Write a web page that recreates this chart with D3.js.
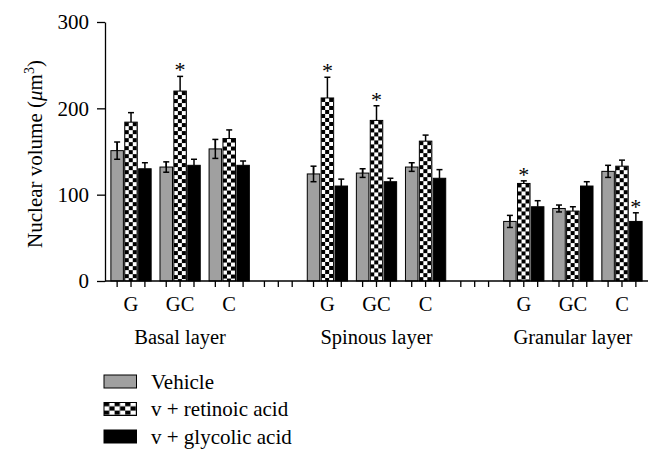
<!DOCTYPE html>
<html>
<head>
<meta charset="utf-8">
<script src="https://cdn.jsdelivr.net/npm/d3@7"></script>
<style>
  body { margin: 0; background: #fff; }
  svg { display: block; font-family: "Liberation Serif", "Times New Roman", serif; }
</style>
</head>
<body>
<div id="chart"></div>
<script>
const layers = ['Basal layer', 'Spinous layer', 'Granular layer'];
const groups = ['G', 'GC', 'C'];
const seriesNames = ['Vehicle', 'v + retinoic acid', 'v + glycolic acid'];

// values per layer x group (Basal G, GC, C, Spinous G, GC, C, Granular G, GC, C)
const vehicle = [151, 132, 153, 124, 125, 132, 69, 84, 127];
const retinoic = [184, 220, 165, 212, 186, 162, 113, 81, 133];
const glycolic = [130, 134, 134, 110, 115, 119, 86, 110, 69];
const vehicleErr = [10, 6, 11, 9, 5, 5, 7, 4, 7];
const retinoicErr = [11, 17, 10, 24, 17, 7, 3, 5, 7];
const glycolicErr = [7, 7, 5, 8, 4, 10, 7, 5, 10];
// [cell index, series index] marked with *
const significant = [[1, 1], [3, 1], [4, 1], [6, 1], [8, 2]];
const yTicks = [0, 100, 200, 300];

const width = 662, height = 461;
const svg = d3.select('#chart').append('svg')
  .attr('width', width).attr('height', height);

const defs = svg.append('defs');

// slot keys: 3 groups per layer, one empty slot between layers
const slots = [];
layers.forEach((l, i) => {
  groups.forEach((g, j) => slots.push(`${i}-${j}`));
  if (i < layers.length - 1) slots.push(`gap${i}`);
});

const x0 = d3.scaleBand().domain(slots).range([105, 648]).paddingInner(0.18).paddingOuter(0.12);
const x1 = d3.scaleBand().domain([0, 1, 2]).range([0, x0.bandwidth()]).paddingInner(0.1);
const y = d3.scaleLinear().domain([0, 300]).range([281, 22]);

const values = [vehicle, retinoic, glycolic];
const errs = [vehicleErr, retinoicErr, glycolicErr];
const fills = ['#a0a0a0', null, '#000'];

const cells = [];
layers.forEach((l, i) => groups.forEach((g, j) => cells.push({ key: `${i}-${j}`, layer: i, group: j })));

const bars = [];
cells.forEach((c, ci) => {
  values.forEach((vals, si) => {
    bars.push({ ci, si, key: c.key, v: vals[ci], e: errs[si][ci] });
  });
});

// one checker pattern per bar so squares line up with the bar edge
bars.filter(b => b.si === 1).forEach(b => {
  const bx = x0(b.key) + x1(b.si);
  const p = defs.append('pattern')
    .attr('id', `chk${b.ci}`)
    .attr('patternUnits', 'userSpaceOnUse')
    .attr('x', bx).attr('y', y(b.v))
    .attr('width', 8).attr('height', 8);
  p.append('rect').attr('width', 8).attr('height', 8).attr('fill', '#fff');
  p.append('rect').attr('width', 4).attr('height', 4).attr('fill', '#000');
  p.append('rect').attr('x', 4).attr('y', 4).attr('width', 4).attr('height', 4).attr('fill', '#000');
});

// error bars (drawn first so bars cover the lower whisker)
const eb = svg.append('g').attr('stroke', '#000').attr('stroke-width', 1.5).attr('fill', 'none');
bars.forEach(b => {
  const cx = x0(b.key) + x1(b.si) + x1.bandwidth() / 2;
  const lo = b.si === 0 ? b.v - b.e : b.v;
  eb.append('line').attr('x1', cx).attr('x2', cx).attr('y1', y(b.v + b.e)).attr('y2', y(lo));
  eb.append('line').attr('x1', cx - 3).attr('x2', cx + 3).attr('y1', y(b.v + b.e)).attr('y2', y(b.v + b.e));
});

svg.append('g').selectAll('rect')
  .data(bars)
  .join('rect')
  .attr('x', d => x0(d.key) + x1(d.si))
  .attr('y', d => y(d.v))
  .attr('width', x1.bandwidth())
  .attr('height', d => y(0) - y(d.v))
  .attr('fill', d => d.si === 1 ? `url(#chk${d.ci})` : fills[d.si])
  .attr('stroke', '#000')
  .attr('stroke-width', 1);

// lower whisker on the grey bars shows through
const eb2 = svg.append('g').attr('stroke', '#000').attr('stroke-width', 1.5);
bars.filter(b => b.si === 0).forEach(b => {
  const cx = x0(b.key) + x1(b.si) + x1.bandwidth() / 2;
  eb2.append('line').attr('x1', cx).attr('x2', cx).attr('y1', y(b.v)).attr('y2', y(b.v - b.e));
  eb2.append('line').attr('x1', cx - 3).attr('x2', cx + 3).attr('y1', y(b.v - b.e)).attr('y2', y(b.v - b.e));
  eb2.append('line').attr('x1', cx).attr('x2', cx).attr('y1', y(b.v + b.e)).attr('y2', y(b.v));
});

// asterisks
significant.forEach(([ci, si]) => {
  const key = cells[ci].key;
  const cx = x0(key) + x1(si) + x1.bandwidth() / 2;
  svg.append('text')
    .attr('x', cx).attr('y', y(values[si][ci] + errs[si][ci]) + 1)
    .attr('text-anchor', 'middle')
    .attr('font-size', 22)
    .text('*');
});

// y axis
const yAxis = d3.axisLeft(y).tickValues(yTicks).tickSize(8).tickPadding(8).tickSizeOuter(0);
const gy = svg.append('g').attr('transform', 'translate(105,0)').call(yAxis);
gy.select('.domain').attr('stroke-width', 1.3);
gy.selectAll('.tick line').attr('stroke-width', 1.3);
gy.selectAll('.tick text').attr('font-size', 21).attr('font-family', 'Liberation Serif').attr('fill', '#000');

// x axis line and slot ticks
svg.append('line').attr('x1', 105).attr('x2', 648).attr('y1', y(0)).attr('y2', y(0))
  .attr('stroke', '#000').attr('stroke-width', 1.3);
const tickG = svg.append('g').attr('stroke', '#000').attr('stroke-width', 1.3);
slots.forEach(s => {
  [0, 1, 2].forEach(k => {
    const cx = x0(s) + x1(k) + x1.bandwidth() / 2;
    tickG.append('line').attr('x1', cx).attr('x2', cx).attr('y1', y(0)).attr('y2', y(0) + 6);
  });
});

// group and layer labels
cells.forEach(c => {
  svg.append('text')
    .attr('x', x0(c.key) + x0.bandwidth() / 2).attr('y', 311)
    .attr('text-anchor', 'middle').attr('font-size', 20.5)
    .text(groups[c.group]);
});
layers.forEach((l, i) => {
  svg.append('text')
    .attr('x', x0(`${i}-1`) + x0.bandwidth() / 2).attr('y', 344)
    .attr('text-anchor', 'middle').attr('font-size', 20.5)
    .text(l);
});

// y title
const yt = svg.append('text')
  .attr('transform', 'translate(42,154) rotate(-90)')
  .attr('text-anchor', 'middle').attr('font-size', 21);
yt.append('tspan').text('Nuclear volume (');
yt.append('tspan').attr('font-style', 'italic').text('μ');
yt.append('tspan').text('m');
yt.append('tspan').attr('font-size', 14).attr('dy', -8).text('3');
yt.append('tspan').attr('dy', 8).text(')');

// legend
const legend = svg.append('g');
const legendFills = ['#a0a0a0', 'url(#legchk)', '#000'];
const lp = defs.append('pattern').attr('id', 'legchk').attr('patternUnits', 'userSpaceOnUse')
  .attr('x', 104).attr('y', 402).attr('width', 10.6).attr('height', 8.6);
lp.append('rect').attr('width', 10.6).attr('height', 8.6).attr('fill', '#fff');
lp.append('rect').attr('width', 5.3).attr('height', 4.3).attr('fill', '#000');
lp.append('rect').attr('x', 5.3).attr('y', 4.3).attr('width', 5.3).attr('height', 4.3).attr('fill', '#000');
seriesNames.forEach((n, i) => {
  const top = 375 + i * 27.5;
  legend.append('rect').attr('x', 104).attr('y', top).attr('width', 32.5).attr('height', 13)
    .attr('fill', legendFills[i]).attr('stroke', '#000').attr('stroke-width', 1);
  legend.append('text').attr('x', 151).attr('y', top + 13.5).attr('font-size', 21).text(n);
});
</script>
</body>
</html>
